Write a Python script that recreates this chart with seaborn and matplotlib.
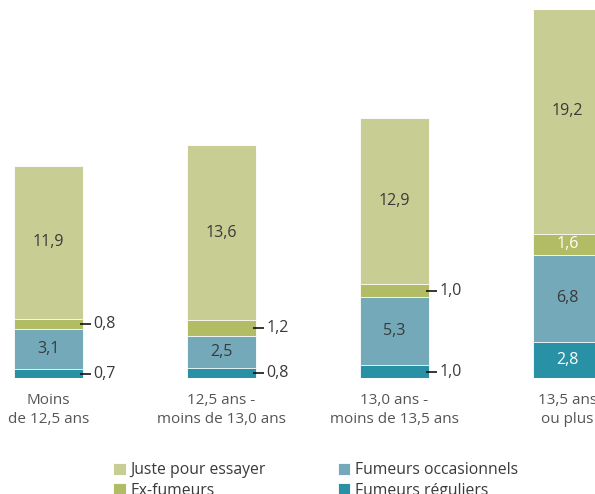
import matplotlib
matplotlib.use("Agg")
import matplotlib.pyplot as plt
import seaborn as sns
import numpy as np
import pandas as pd

categories = ["Moins\nde 12,5 ans", "12,5 ans -\nmoins de 13,0 ans",
              "13,0 ans -\nmoins de 13,5 ans", "13,5 ans\nou plus"]
reguliers = [0.7, 0.8, 1.0, 2.8]
occasionnels = [3.1, 2.5, 5.3, 6.8]
ex_fumeurs = [0.8, 1.2, 1.0, 1.6]
juste = [11.9, 13.6, 12.9, 19.2]

series_names = ["Fumeurs réguliers", "Fumeurs occasionnels", "Ex-fumeurs", "Juste pour essayer"]
series_vals = [reguliers, occasionnels, ex_fumeurs, juste]
colors = ["#2891A5", "#73A9B9", "#B1BC65", "#C8CD93"]
label_colors = ["white", "#3a3a3a", "white", "#3a3a3a"]

sns.set_theme(style="white")
plt.rcParams["font.family"] = ["Open Sans", "DejaVu Sans"]

fig = plt.figure(figsize=(5.95, 4.94), dpi=100)
ax = fig.add_axes([0, 116 / 494, 1, 368 / 494])

vals = np.array(series_vals)
cum = np.cumsum(vals, axis=0)

# draw from top layer down so each stacked segment is visible
for k in range(len(series_names) - 1, -1, -1):
    df = pd.DataFrame({"cat": categories, "v": cum[k]})
    sns.barplot(data=df, x="cat", y="v", color=colors[k], width=0.4,
                edgecolor="white", linewidth=0.6, saturation=1,
                label=series_names[k], ax=ax)

ax.set_xlim(-48.5 / 173, (595 - 48.5) / 173)
ax.set_ylim(0, 368 / 12.85)

for i in range(len(categories)):
    for k in range(len(series_names)):
        v = vals[k, i]
        base = cum[k, i] - v
        yc = base + v / 2
        txt = f"{v:.1f}".replace(".", ",")
        if v < 1.5:
            ax.plot([i + 0.18, i + 0.245], [yc, yc], color="black", lw=1.1,
                    solid_capstyle="butt", clip_on=False)
            ax.text(i + 0.26, yc, txt, ha="left", va="center",
                    fontsize=11.5, color="#3a3a3a")
        else:
            ax.text(i, yc, txt, ha="center", va="center", fontsize=11.5,
                    color=label_colors[k])

ax.set_xlabel("")
ax.set_ylabel("")
ax.set_yticks([])
ax.tick_params(axis="x", length=0, pad=11, labelsize=11, labelcolor="#555555")
for lab in ax.get_xticklabels():
    lab.set_linespacing(1.3)
for s in ax.spines.values():
    s.set_visible(False)

handles, labels = ax.get_legend_handles_labels()
order = ["Juste pour essayer", "Ex-fumeurs", "Fumeurs occasionnels", "Fumeurs réguliers"]
hmap = dict(zip(labels, handles))
ax.legend([hmap[o] for o in order], order, ncol=2, frameon=False,
          loc="upper left", bbox_to_anchor=(113 / 595, 32 / 494),
          bbox_transform=fig.transFigure, fontsize=11.3,
          handlelength=0.8, handleheight=0.8, handletextpad=0.3,
          columnspacing=4.6, labelspacing=0.3, borderpad=0, borderaxespad=0,
          labelcolor="#3a3a3a")

fig.savefig("out.png", dpi=100)
